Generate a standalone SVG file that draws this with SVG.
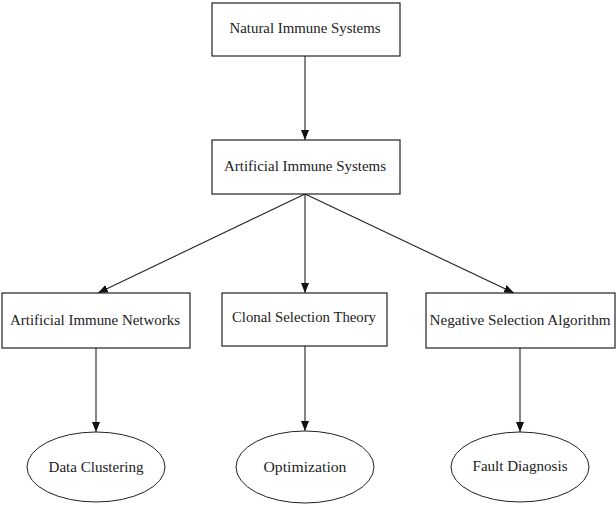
<svg xmlns="http://www.w3.org/2000/svg" width="616" height="506" viewBox="0 0 616 506">
<defs>
<style>
.box{fill:#fff;stroke:#222;stroke-width:1.2}
.ell{fill:#fff;stroke:#222;stroke-width:1}
.lbl{font-family:'Liberation Serif','DejaVu Serif','Times New Roman',serif;font-size:14px;fill:#222;text-anchor:middle}
.edge{stroke:#222;stroke-width:1.1;fill:none}
</style>
<marker id="ah" viewBox="0 0 10 8" refX="10" refY="4" markerWidth="10" markerHeight="8" markerUnits="userSpaceOnUse" orient="auto">
<path d="M0,0 L10,4 L0,8 Z" fill="#111"/>
</marker>
</defs>
<rect width="616" height="506" fill="#fff"/>
<g id="connectors">
<line class="edge" x1="305" y1="56" x2="305" y2="140" marker-end="url(#ah)"/>
<line class="edge" x1="305" y1="194" x2="98" y2="293" marker-end="url(#ah)"/>
<line class="edge" x1="305" y1="194" x2="305" y2="293" marker-end="url(#ah)"/>
<line class="edge" x1="305" y1="194" x2="514" y2="293" marker-end="url(#ah)"/>
<line class="edge" x1="96" y1="348" x2="96" y2="432" marker-end="url(#ah)"/>
<line class="edge" x1="305" y1="346" x2="305" y2="431" marker-end="url(#ah)"/>
<line class="edge" x1="520" y1="348" x2="520" y2="432" marker-end="url(#ah)"/>
</g>
<g id="natural">
<rect class="box" x="212" y="3" width="188" height="53"/>
<text class="lbl" x="305" y="33" textLength="151" lengthAdjust="spacingAndGlyphs">Natural Immune Systems</text>
</g>
<g id="ais">
<rect class="box" x="212" y="140" width="188" height="54"/>
<text class="lbl" x="305" y="171" textLength="162" lengthAdjust="spacingAndGlyphs">Artificial Immune Systems</text>
</g>
<g id="ain">
<rect class="box" x="2" y="293" width="188" height="55"/>
<text class="lbl" x="95" y="325" textLength="170" lengthAdjust="spacingAndGlyphs">Artificial Immune Networks</text>
</g>
<g id="cst">
<rect class="box" x="222" y="293" width="165" height="53"/>
<text class="lbl" x="304" y="322" textLength="144" lengthAdjust="spacingAndGlyphs">Clonal Selection Theory</text>
</g>
<g id="nsa">
<rect class="box" x="426" y="293" width="189" height="55"/>
<text class="lbl" x="520" y="325" textLength="181" lengthAdjust="spacingAndGlyphs">Negative Selection Algorithm</text>
</g>
<g id="dc">
<ellipse class="ell" cx="96" cy="467" rx="69" ry="35"/>
<text class="lbl" x="96" y="472" textLength="95" lengthAdjust="spacingAndGlyphs">Data Clustering</text>
</g>
<g id="opt">
<ellipse class="ell" cx="305" cy="467" rx="69" ry="36"/>
<text class="lbl" x="305" y="472" textLength="83" lengthAdjust="spacingAndGlyphs">Optimization</text>
</g>
<g id="fd">
<ellipse class="ell" cx="520" cy="467" rx="69" ry="35"/>
<text class="lbl" x="520" y="471" textLength="95" lengthAdjust="spacingAndGlyphs">Fault Diagnosis</text>
</g>
</svg>
